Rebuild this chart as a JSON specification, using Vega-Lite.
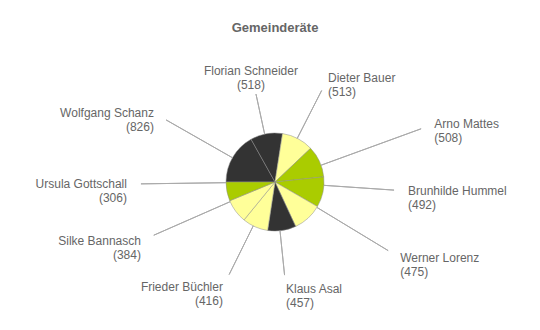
{
  "$schema": "https://vega.github.io/schema/vega-lite/v6.json",
  "width": 530,
  "height": 292,
  "autosize": {"type": "none"},
  "padding": {"left": 10, "top": 36, "right": 0, "bottom": 2},
  "title": {"text": "Gemeinderäte", "fontSize": 13, "fontWeight": "bold", "color": "#666666", "font": "Liberation Sans", "offset": 1, "frame": "group"},
  "data": {
    "values": [
      {"nr": 1, "name": "Wolfgang Schanz", "stimmen": 826, "gruppe": "schwarz", "label": "Wolfgang Schanz\n(826)"},
      {"nr": 2, "name": "Florian Schneider", "stimmen": 518, "gruppe": "schwarz", "label": "Florian Schneider\n(518)"},
      {"nr": 3, "name": "Dieter Bauer", "stimmen": 513, "gruppe": "gelb", "label": "Dieter Bauer\n(513)"},
      {"nr": 4, "name": "Arno Mattes", "stimmen": 508, "gruppe": "grün", "label": "Arno Mattes\n(508)"},
      {"nr": 5, "name": "Brunhilde Hummel", "stimmen": 492, "gruppe": "grün", "label": "Brunhilde Hummel\n(492)"},
      {"nr": 6, "name": "Werner Lorenz", "stimmen": 475, "gruppe": "gelb", "label": "Werner Lorenz\n(475)"},
      {"nr": 7, "name": "Klaus Asal", "stimmen": 457, "gruppe": "schwarz", "label": "Klaus Asal\n(457)"},
      {"nr": 8, "name": "Frieder Büchler", "stimmen": 416, "gruppe": "gelb", "label": "Frieder Büchler\n(416)"},
      {"nr": 9, "name": "Silke Bannasch", "stimmen": 384, "gruppe": "gelb", "label": "Silke Bannasch\n(384)"},
      {"nr": 10, "name": "Ursula Gottschall", "stimmen": 306, "gruppe": "grün", "label": "Ursula Gottschall\n(306)"}
    ]
  },
  "resolve": {"scale": {"theta": "independent", "radius": "independent"}},
  "layer": [
    {
      "mark": {"type": "arc", "radius": 49, "stroke": "#8c8c8c", "strokeWidth": 0.5},
      "encoding": {
        "theta": {"field": "stimmen", "type": "quantitative", "stack": "normalize", "scale": {"domain": [0, 1], "range": [4.71238898, 10.99557429]}},
        "order": {"field": "nr", "type": "quantitative"},
        "color": {"field": "gruppe", "type": "nominal", "legend": null, "scale": {"domain": ["schwarz", "gelb", "grün"], "range": ["#333333", "#ffff99", "#aacc00"]}}
      }
    },
    {
      "transform": [
        {"fold": ["stimmen", "stimmen"], "as": ["feld", "teil"]},
        {"window": [{"op": "row_number", "as": "haelfte"}], "groupby": ["name"]},
        {"stack": "teil", "groupby": [], "sort": [{"field": "nr", "order": "ascending"}, {"field": "haelfte", "order": "ascending"}], "offset": "normalize", "as": ["a0", "a1"]},
        {"filter": "datum.haelfte == 1"}
      ],
      "layer": [
        {
          "mark": {"type": "arc", "radius2": 49, "stroke": "#aaaaaa", "strokeWidth": 1, "filled": false},
          "encoding": {
            "theta": {"field": "a1", "type": "quantitative", "stack": null, "scale": {"type": "linear", "domain": [0, 0.0625, 0.125, 0.1875, 0.25, 0.3125, 0.375, 0.4375, 0.5, 0.5625, 0.625, 0.6875, 0.75, 0.8125, 0.875, 0.9375, 1], "range": [4.712389, 5.16617, 5.34996, 5.8137, 6.283185, 6.634, 7.15585, 7.54331, 7.853982, 7.98139, 8.30253, 9.14203, 9.424778, 9.85239, 10.35329, 10.96765, 10.995574]}},
            "theta2": {"field": "a1"},
            "radius": {"field": "a1", "type": "quantitative", "scale": {"type": "linear", "domain": [0, 0.0625, 0.125, 0.1875, 0.25, 0.3125, 0.375, 0.4375, 0.5, 0.5625, 0.625, 0.6875, 0.75, 0.8125, 0.875, 0.9375, 1], "range": [136, 132.5, 112, 96, 85, 99, 115, 160, 130, 110, 137, 96.4, 92, 101.3, 132.6, 132.1, 136]}}
          }
        },
        {
          "transform": [{"filter": "datum.a1 >= 0.25 && datum.a1 < 0.75"}],
          "mark": {"type": "text", "align": "left", "baseline": "middle", "radiusOffset": 14, "lineBreak": "\n", "lineHeight": 14, "fontSize": 12, "font": "Liberation Sans", "color": "#666666"},
          "encoding": {
            "theta": {"field": "a1", "type": "quantitative", "stack": null, "scale": {"type": "linear", "domain": [0, 0.0625, 0.125, 0.1875, 0.25, 0.3125, 0.375, 0.4375, 0.5, 0.5625, 0.625, 0.6875, 0.75, 0.8125, 0.875, 0.9375, 1], "range": [4.712389, 5.16617, 5.34996, 5.8137, 6.283185, 6.634, 7.15585, 7.54331, 7.853982, 7.98139, 8.30253, 9.14203, 9.424778, 9.85239, 10.35329, 10.96765, 10.995574]}},
            "radius": {"field": "a1", "type": "quantitative", "scale": {"type": "linear", "domain": [0, 0.0625, 0.125, 0.1875, 0.25, 0.3125, 0.375, 0.4375, 0.5, 0.5625, 0.625, 0.6875, 0.75, 0.8125, 0.875, 0.9375, 1], "range": [136, 132.5, 112, 96, 85, 99, 115, 160, 130, 110, 137, 96.4, 92, 101.3, 132.6, 132.1, 136]}},
            "text": {"field": "label", "type": "nominal"}
          }
        },
        {
          "transform": [{"filter": "datum.a1 >= 0.2 && datum.a1 < 0.25"}],
          "mark": {"type": "text", "align": "center", "baseline": "middle", "radiusOffset": 24, "lineBreak": "\n", "lineHeight": 14, "fontSize": 12, "font": "Liberation Sans", "color": "#666666"},
          "encoding": {
            "theta": {"field": "a1", "type": "quantitative", "stack": null, "scale": {"type": "linear", "domain": [0, 0.0625, 0.125, 0.1875, 0.25, 0.3125, 0.375, 0.4375, 0.5, 0.5625, 0.625, 0.6875, 0.75, 0.8125, 0.875, 0.9375, 1], "range": [4.712389, 5.16617, 5.34996, 5.8137, 6.283185, 6.634, 7.15585, 7.54331, 7.853982, 7.98139, 8.30253, 9.14203, 9.424778, 9.85239, 10.35329, 10.96765, 10.995574]}},
            "radius": {"field": "a1", "type": "quantitative", "scale": {"type": "linear", "domain": [0, 0.0625, 0.125, 0.1875, 0.25, 0.3125, 0.375, 0.4375, 0.5, 0.5625, 0.625, 0.6875, 0.75, 0.8125, 0.875, 0.9375, 1], "range": [136, 132.5, 112, 96, 85, 99, 115, 160, 130, 110, 137, 96.4, 92, 101.3, 132.6, 132.1, 136]}},
            "text": {"field": "label", "type": "nominal"}
          }
        },
        {
          "transform": [{"filter": "datum.a1 < 0.2 || datum.a1 >= 0.75"}],
          "mark": {"type": "text", "align": "right", "baseline": "middle", "radiusOffset": 14, "lineBreak": "\n", "lineHeight": 14, "fontSize": 12, "font": "Liberation Sans", "color": "#666666"},
          "encoding": {
            "theta": {"field": "a1", "type": "quantitative", "stack": null, "scale": {"type": "linear", "domain": [0, 0.0625, 0.125, 0.1875, 0.25, 0.3125, 0.375, 0.4375, 0.5, 0.5625, 0.625, 0.6875, 0.75, 0.8125, 0.875, 0.9375, 1], "range": [4.712389, 5.16617, 5.34996, 5.8137, 6.283185, 6.634, 7.15585, 7.54331, 7.853982, 7.98139, 8.30253, 9.14203, 9.424778, 9.85239, 10.35329, 10.96765, 10.995574]}},
            "radius": {"field": "a1", "type": "quantitative", "scale": {"type": "linear", "domain": [0, 0.0625, 0.125, 0.1875, 0.25, 0.3125, 0.375, 0.4375, 0.5, 0.5625, 0.625, 0.6875, 0.75, 0.8125, 0.875, 0.9375, 1], "range": [136, 132.5, 112, 96, 85, 99, 115, 160, 130, 110, 137, 96.4, 92, 101.3, 132.6, 132.1, 136]}},
            "text": {"field": "label", "type": "nominal"}
          }
        }
      ]
    }
  ],
  "config": {"view": {"stroke": null}}
}
